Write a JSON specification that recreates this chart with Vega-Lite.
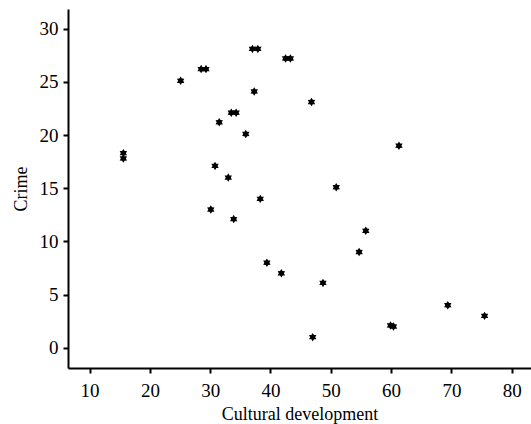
{
  "$schema": "https://vega.github.io/schema/vega-lite/v6.json",
  "autosize": {"type": "none"},
  "padding": {"left": 68, "top": 9, "right": 0, "bottom": 56},
  "width": 463,
  "height": 359,
  "background": "white",
  "config": {
    "view": {"stroke": null},
    "font": "Liberation Serif",
    "axis": {
      "grid": false,
      "domainColor": "black",
      "domainWidth": 2,
      "tickColor": "black",
      "tickWidth": 2,
      "tickSize": 5,
      "labelColor": "black",
      "labelFont": "Liberation Serif",
      "labelFontSize": 19,
      "titleFont": "Liberation Serif",
      "titleFontSize": 18,
      "titleFontWeight": "normal",
      "titleColor": "black"
    }
  },
  "data": {
    "values": [
      {"culture": 15.6, "crime": 18.3},
      {"culture": 15.6, "crime": 17.8},
      {"culture": 25.1, "crime": 25.1},
      {"culture": 28.5, "crime": 26.2},
      {"culture": 29.3, "crime": 26.2},
      {"culture": 37.0, "crime": 28.1},
      {"culture": 37.9, "crime": 28.1},
      {"culture": 37.3, "crime": 24.1},
      {"culture": 31.5, "crime": 21.2},
      {"culture": 33.5, "crime": 22.1},
      {"culture": 34.3, "crime": 22.1},
      {"culture": 35.9, "crime": 20.1},
      {"culture": 30.8, "crime": 17.1},
      {"culture": 33.0, "crime": 16.0},
      {"culture": 38.3, "crime": 14.0},
      {"culture": 42.5, "crime": 27.2},
      {"culture": 43.3, "crime": 27.2},
      {"culture": 46.8, "crime": 23.1},
      {"culture": 61.3, "crime": 19.0},
      {"culture": 50.9, "crime": 15.1},
      {"culture": 30.1, "crime": 13.0},
      {"culture": 33.9, "crime": 12.1},
      {"culture": 39.4, "crime": 8.0},
      {"culture": 55.8, "crime": 11.0},
      {"culture": 54.7, "crime": 9.0},
      {"culture": 41.8, "crime": 7.0},
      {"culture": 48.7, "crime": 6.1},
      {"culture": 69.4, "crime": 4.0},
      {"culture": 75.5, "crime": 3.0},
      {"culture": 59.9, "crime": 2.1},
      {"culture": 60.4, "crime": 2.0},
      {"culture": 47.0, "crime": 1.0}
    ]
  },
  "mark": {
    "type": "point",
    "filled": true,
    "color": "black",
    "opacity": 1,
    "size": 72,
    "shape": "M0,-1L0.3,-0.52L0.866,-0.5L0.6,0L0.866,0.5L0.3,0.52L0,1L-0.3,0.52L-0.866,0.5L-0.6,0L-0.866,-0.5L-0.3,-0.52Z"
  },
  "encoding": {
    "x": {
      "field": "culture",
      "type": "quantitative",
      "title": "Cultural development",
      "scale": {"domain": [6.42, 83.2], "nice": false, "zero": false},
      "axis": {"values": [10, 20, 30, 40, 50, 60, 70, 80], "labelPadding": 8, "titlePadding": 5}
    },
    "y": {
      "field": "crime",
      "type": "quantitative",
      "title": "Crime",
      "scale": {"domain": [-1.9, 31.85], "nice": false, "zero": false},
      "axis": {"values": [0, 5, 10, 15, 20, 25, 30], "labelPadding": 5, "titlePadding": 9}
    }
  }
}
